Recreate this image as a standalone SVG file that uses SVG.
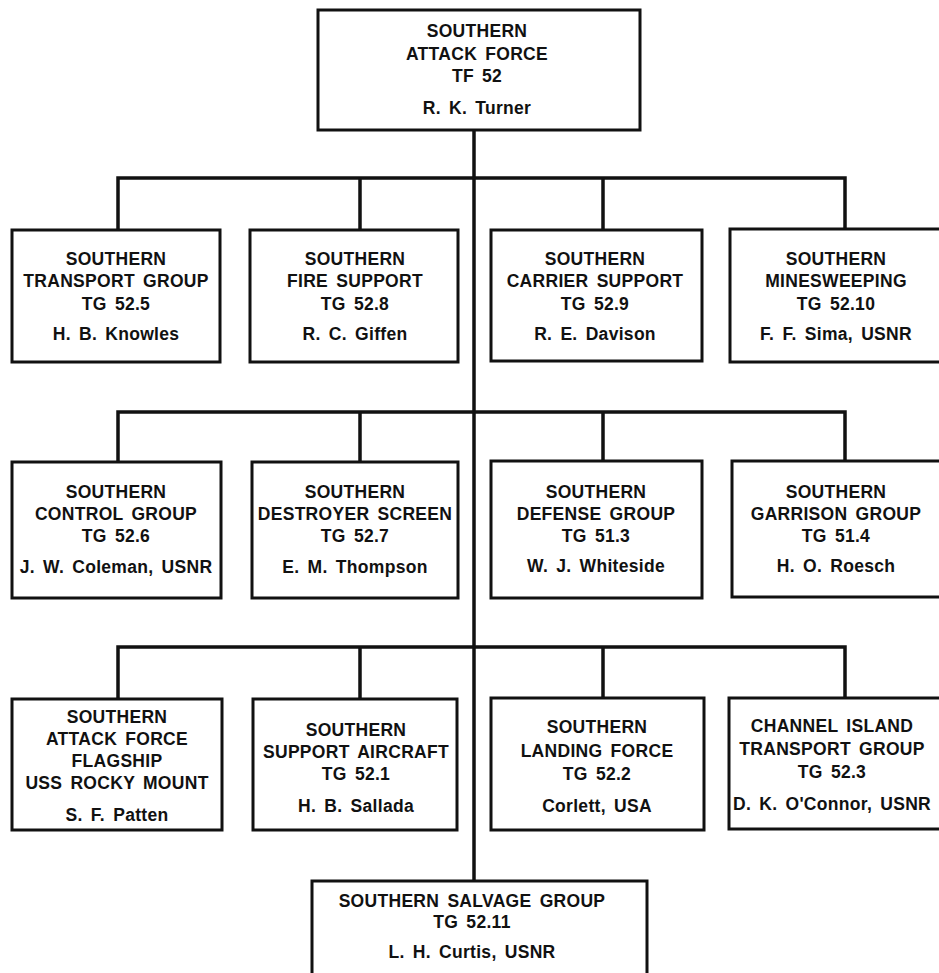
<svg xmlns="http://www.w3.org/2000/svg" width="939" height="973" viewBox="0 0 939 973">
<style>
.box{fill:#fff;stroke:#111;stroke-width:3}
.conn{fill:none;stroke:#111;stroke-width:3.5;stroke-linejoin:miter}
text{font-family:"Liberation Sans",Arial,sans-serif;font-weight:bold;font-size:17.5px;fill:#111;text-anchor:middle;letter-spacing:0.3px;word-spacing:3px}
</style>
<rect width="939" height="973" fill="#fff"/>
<g id="connectors">
<path class="conn" d="M474 130 V881"/>
<path class="conn" d="M118 230 V178 H845 V230 M360 178 V230 M603 178 V230"/>
<path class="conn" d="M118 462 V412 H845 V462 M360 412 V462 M603 412 V462"/>
<path class="conn" d="M118 699 V647 H845 V699 M360 647 V699 M603 647 V699"/>
</g>
<g id="tf52">
<rect class="box" x="318" y="10" width="322" height="120"/>
<text x="477" y="37">SOUTHERN</text>
<text x="477" y="60">ATTACK FORCE</text>
<text x="477" y="82">TF 52</text>
<text x="477" y="114">R. K. Turner</text>
</g>
<g id="tg525">
<rect class="box" x="12" y="230" width="208" height="132"/>
<text x="116" y="265">SOUTHERN</text>
<text x="116" y="287">TRANSPORT GROUP</text>
<text x="116" y="310">TG 52.5</text>
<text x="116" y="340">H. B. Knowles</text>
</g>
<g id="tg528">
<rect class="box" x="250" y="230" width="208" height="132"/>
<text x="355" y="265">SOUTHERN</text>
<text x="355" y="287">FIRE SUPPORT</text>
<text x="355" y="310">TG 52.8</text>
<text x="355" y="340">R. C. Giffen</text>
</g>
<g id="tg529">
<rect class="box" x="491" y="230" width="211" height="131"/>
<text x="595" y="265">SOUTHERN</text>
<text x="595" y="287">CARRIER SUPPORT</text>
<text x="595" y="310">TG 52.9</text>
<text x="595" y="340">R. E. Davison</text>
</g>
<g id="tg5210">
<rect class="box" x="730" y="229" width="213" height="133"/>
<text x="836" y="265">SOUTHERN</text>
<text x="836" y="287">MINESWEEPING</text>
<text x="836" y="310">TG 52.10</text>
<text x="836" y="340">F. F. Sima, USNR</text>
</g>
<g id="tg526">
<rect class="box" x="12" y="462" width="209" height="136"/>
<text x="116" y="498">SOUTHERN</text>
<text x="116" y="520">CONTROL GROUP</text>
<text x="116" y="542">TG 52.6</text>
<text x="116" y="573">J. W. Coleman, USNR</text>
</g>
<g id="tg527">
<rect class="box" x="252" y="462" width="206" height="136"/>
<text x="355" y="498">SOUTHERN</text>
<text x="355" y="520">DESTROYER SCREEN</text>
<text x="355" y="542">TG 52.7</text>
<text x="355" y="573">E. M. Thompson</text>
</g>
<g id="tg513">
<rect class="box" x="491" y="461" width="211" height="137"/>
<text x="596" y="498">SOUTHERN</text>
<text x="596" y="520">DEFENSE GROUP</text>
<text x="596" y="542">TG 51.3</text>
<text x="596" y="572">W. J. Whiteside</text>
</g>
<g id="tg514">
<rect class="box" x="732" y="461" width="211" height="136"/>
<text x="836" y="498">SOUTHERN</text>
<text x="836" y="520">GARRISON GROUP</text>
<text x="836" y="542">TG 51.4</text>
<text x="836" y="572">H. O. Roesch</text>
</g>
<g id="flagship">
<rect class="box" x="12" y="699" width="210" height="131"/>
<text x="117" y="723">SOUTHERN</text>
<text x="117" y="745">ATTACK FORCE</text>
<text x="117" y="767">FLAGSHIP</text>
<text x="117" y="789">USS ROCKY MOUNT</text>
<text x="117" y="821">S. F. Patten</text>
</g>
<g id="tg521">
<rect class="box" x="253" y="699" width="204" height="131"/>
<text x="356" y="736">SOUTHERN</text>
<text x="356" y="758">SUPPORT AIRCRAFT</text>
<text x="356" y="780">TG 52.1</text>
<text x="356" y="812">H. B. Sallada</text>
</g>
<g id="tg522">
<rect class="box" x="491" y="698" width="213" height="132"/>
<text x="597" y="733">SOUTHERN</text>
<text x="597" y="757">LANDING FORCE</text>
<text x="597" y="780">TG 52.2</text>
<text x="597" y="812">Corlett, USA</text>
</g>
<g id="tg523">
<rect class="box" x="729" y="698" width="214" height="131"/>
<text x="832" y="732">CHANNEL ISLAND</text>
<text x="832" y="755">TRANSPORT GROUP</text>
<text x="832" y="778">TG 52.3</text>
<text x="832" y="810">D. K. O'Connor, USNR</text>
</g>
<g id="tg5211">
<rect class="box" x="312" y="881" width="335" height="100"/>
<text x="472" y="907">SOUTHERN SALVAGE GROUP</text>
<text x="472" y="928">TG 52.11</text>
<text x="472" y="958">L. H. Curtis, USNR</text>
</g>
</svg>
